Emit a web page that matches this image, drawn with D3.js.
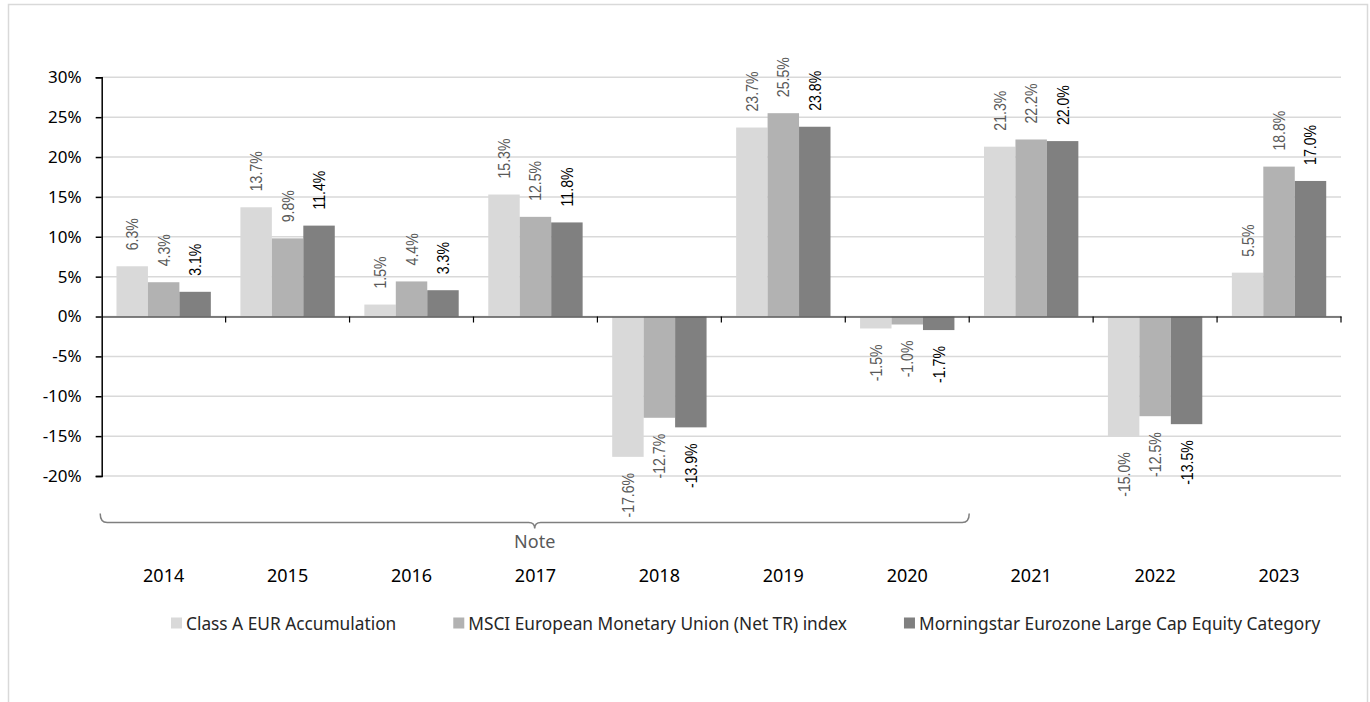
<!DOCTYPE html>
<html>
<head>
<meta charset="utf-8">
<script src="https://cdn.jsdelivr.net/npm/d3@7"></script>
<style>
  body { margin: 0; background: #fff; }
  svg { display: block; }
</style>
</head>
<body>
<script>
var years = ["2014", "2015", "2016", "2017", "2018", "2019", "2020", "2021", "2022", "2023"];
var seriesNames = ["Class A EUR Accumulation", "MSCI European Monetary Union (Net TR) index", "Morningstar Eurozone Large Cap Equity Category"];
var classA = [6.3, 13.7, 1.5, 15.3, -17.6, 23.7, -1.5, 21.3, -15.0, 5.5];
var msci = [4.3, 9.8, 4.4, 12.5, -12.7, 25.5, -1.0, 22.2, -12.5, 18.8];
var morningstar = [3.1, 11.4, 3.3, 11.8, -13.9, 23.8, -1.7, 22.0, -13.5, 17.0];
var yTicks = [-20, -15, -10, -5, 0, 5, 10, 15, 20, 25, 30];
var noteLabel = "Note";

var colors = ["#d9d9d9", "#b2b2b2", "#808080"];
var labelColors = ["#595959", "#595959", "#000000"];

drawChart();

function drawChart() {
    var allSeries = [classA, msci, morningstar];
    var data = years.map(function(yr, i) {
        return { year: yr, values: allSeries.map(function(s, k) { return { key: k, value: s[i] }; }) };
    });

    var W = 1370, H = 702;
    var plotLeft = 101.7, plotRight = 1341, plotTop = 77.3, plotBottom = 476;

    var svg = d3.select("body").append("svg")
        .attr("width", W)
        .attr("height", H);

    // outer frame
    svg.append("rect")
        .attr("x", 8.5).attr("y", 4.5)
        .attr("width", 1359).attr("height", 720)
        .attr("fill", "none")
        .attr("stroke", "#d9d9d9")
        .attr("stroke-width", 1.5);

    var x0 = d3.scaleBand()
        .domain(years)
        .range([plotLeft, plotRight])
        .paddingInner(0);

    var x1 = d3.scaleBand()
        .domain([0, 1, 2])
        .range([0, x0.bandwidth()])
        .paddingInner(0)
        .paddingOuter(0.47);

    var y = d3.scaleLinear()
        .domain([-20, 30])
        .range([plotBottom, plotTop]);

    // gridlines
    svg.append("g")
        .selectAll("line")
        .data(yTicks)
        .enter().append("line")
        .attr("x1", plotLeft).attr("x2", plotRight)
        .attr("y1", function(d) { return y(d); })
        .attr("y2", function(d) { return y(d); })
        .attr("stroke", "#d9d9d9")
        .attr("stroke-width", 1.5);

    // bars
    var group = svg.append("g")
        .selectAll("g")
        .data(data)
        .enter().append("g")
        .attr("transform", function(d) { return "translate(" + x0(d.year) + ",0)"; });

    group.selectAll("rect")
        .data(function(d) { return d.values; })
        .enter().append("rect")
        .attr("x", function(d) { return x1(d.key); })
        .attr("y", function(d) { return y(Math.max(0, d.value)); })
        .attr("width", x1.bandwidth())
        .attr("height", function(d) { return Math.abs(y(d.value) - y(0)); })
        .attr("fill", function(d) { return colors[d.key]; });

    // value labels, narrow (condensed along the text direction)
    group.selectAll("text")
        .data(function(d) { return d.values; })
        .enter().append("text")
        .attr("transform", function(d) {
            var cx = x1(d.key) + x1.bandwidth() / 2;
            var cy = d.value >= 0 ? y(d.value) - 16 : y(d.value) + 16;
            return "translate(" + cx + "," + cy + ") rotate(-90) scale(0.83,1)";
        })
        .attr("text-anchor", function(d) { return d.value >= 0 ? "start" : "end"; })
        .attr("dominant-baseline", "central")
        .attr("font-family", "'Liberation Sans', sans-serif")
        .attr("font-size", "17px")
        .attr("fill", function(d) { return labelColors[d.key]; })
        .text(function(d) { return d.value.toFixed(1) + "%"; });

    // zero line with category ticks
    var xAxis = d3.axisBottom(x0)
        .tickValues([])
        .tickSizeOuter(0);
    var xg = svg.append("g")
        .attr("transform", "translate(0," + y(0) + ")")
        .call(xAxis);
    xg.select(".domain").attr("stroke", "#595959").attr("stroke-width", 1.5);
    xg.selectAll(".sep")
        .data(years)
        .enter().append("line")
        .attr("class", "sep")
        .attr("x1", function(d) { return x0(d) + x0.bandwidth(); })
        .attr("x2", function(d) { return x0(d) + x0.bandwidth(); })
        .attr("y1", 0).attr("y2", 6)
        .attr("stroke", "#000")
        .attr("stroke-width", 1.2);

    // y axis
    var yAxis = d3.axisLeft(y)
        .tickValues(yTicks)
        .tickSize(6)
        .tickPadding(14)
        .tickFormat(function(d) { return d + "%"; });
    var yg = svg.append("g")
        .attr("transform", "translate(" + plotLeft + ",0)")
        .call(yAxis);
    yg.select(".domain").attr("stroke", "#000").attr("stroke-width", 1.5);
    yg.selectAll(".tick line").attr("stroke", "#000").attr("stroke-width", 1.5);
    yg.selectAll(".tick text")
        .attr("font-family", "'Noto Sans', sans-serif")
        .attr("font-size", "17px")
        .attr("fill", "#000");

    // brace over 2014-2020
    var bx0 = x0("2014") - 1.5, bx1 = x0("2020") + x0.bandwidth();
    var bmid = (bx0 + bx1) / 2, by = 522.5;
    svg.append("path")
        .attr("d", "M" + bx0 + "," + (by - 9) +
            " Q" + bx0 + "," + by + " " + (bx0 + 7) + "," + by +
            " L" + (bmid - 6) + "," + by +
            " Q" + bmid + "," + by + " " + bmid + "," + (by + 6) +
            " Q" + bmid + "," + by + " " + (bmid + 6) + "," + by +
            " L" + (bx1 - 7) + "," + by +
            " Q" + bx1 + "," + by + " " + bx1 + "," + (by - 9))
        .attr("fill", "none")
        .attr("stroke", "#7f7f7f")
        .attr("stroke-width", 1.5);

    svg.append("text")
        .attr("x", bmid).attr("y", 548)
        .attr("text-anchor", "middle")
        .attr("font-family", "'Noto Sans', sans-serif")
        .attr("font-size", "18px")
        .attr("fill", "#595959")
        .text(noteLabel);

    // year labels
    svg.append("g")
        .selectAll("text")
        .data(years)
        .enter().append("text")
        .attr("x", function(d) { return x0(d) + x0.bandwidth() / 2; })
        .attr("y", 582)
        .attr("text-anchor", "middle")
        .attr("font-family", "'Noto Sans', sans-serif")
        .attr("font-size", "18px")
        .attr("fill", "#000")
        .text(function(d) { return d; });

    // legend
    var legend = svg.append("g");
    var lx = 171, ly = 623;
    seriesNames.forEach(function(name, k) {
        legend.append("rect")
            .attr("x", lx).attr("y", ly - 5.5)
            .attr("width", 11).attr("height", 11)
            .attr("fill", colors[k]);
        var t = legend.append("text")
            .attr("x", lx + 15).attr("y", ly)
            .attr("dominant-baseline", "central")
            .attr("font-family", "'Noto Sans', sans-serif")
            .attr("font-size", "17.3px")
            .attr("fill", "#262626")
            .text(name);
        lx += 15 + t.node().getComputedTextLength() + 57;
    });
}
</script>
</body>
</html>
